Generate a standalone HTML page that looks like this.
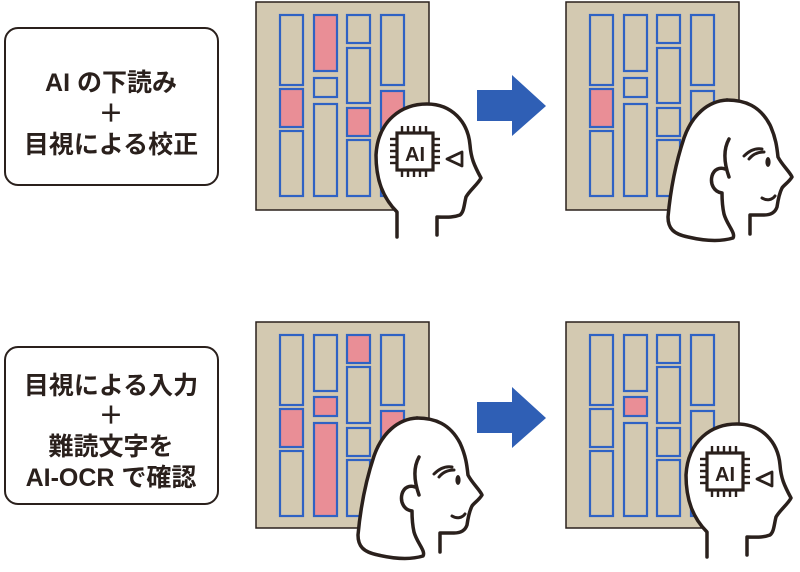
<!DOCTYPE html>
<html><head><meta charset="utf-8"><style>
html,body{margin:0;padding:0;background:#fff;}
svg{display:block}
text{font-family:"Liberation Sans","Noto Sans CJK JP",sans-serif;font-weight:bold;fill:#2a201c;}
</style></head><body>
<svg width="800" height="572" viewBox="0 0 800 572" xmlns="http://www.w3.org/2000/svg">
<defs>
<g id="chiphead">
  <path d="M397,237 L397,212 C383,198 376,180 376,155 C378,120 402,104 427,104 C452,104 468,122 470,145 C471,158 474,165 481,178 C478,184 470,190 466,197 C464,205 464,212 460,215 C452,218 445,217 437,217 L437,235" fill="#fff" stroke="#2a201c" stroke-width="3.5" stroke-linejoin="round" stroke-linecap="round"/>
  <rect x="397" y="133" width="36" height="37" fill="#fff" stroke="#2a201c" stroke-width="3.2"/>
  <g stroke="#2a201c" stroke-width="2.4">
    <line x1="402" y1="126" x2="402" y2="133"/><line x1="408" y1="126" x2="408" y2="133"/><line x1="414" y1="126" x2="414" y2="133"/><line x1="420" y1="126" x2="420" y2="133"/><line x1="426" y1="126" x2="426" y2="133"/>
    <line x1="402" y1="170" x2="402" y2="177"/><line x1="408" y1="170" x2="408" y2="177"/><line x1="414" y1="170" x2="414" y2="177"/><line x1="420" y1="170" x2="420" y2="177"/><line x1="426" y1="170" x2="426" y2="177"/>
    <line x1="390" y1="139" x2="397" y2="139"/><line x1="390" y1="145" x2="397" y2="145"/><line x1="390" y1="151" x2="397" y2="151"/><line x1="390" y1="157" x2="397" y2="157"/><line x1="390" y1="163" x2="397" y2="163"/>
    <line x1="433" y1="139" x2="440" y2="139"/><line x1="433" y1="145" x2="440" y2="145"/><line x1="433" y1="151" x2="440" y2="151"/><line x1="433" y1="157" x2="440" y2="157"/><line x1="433" y1="163" x2="440" y2="163"/>
  </g>
  <text x="415" y="161" font-size="20" text-anchor="middle">AI</text>
  <path d="M447,159 L462,152 L462,166 Z" fill="#fff" stroke="#2a201c" stroke-width="2.8" stroke-linejoin="round"/>
</g>
<g id="woman">
  <path d="M727,100 C745,100 760,106 770,125 C776,138 777,148 778,157 C782,165 790,172 792,177 C789,182 784,185 782,188 C779,194 778,200 777,207 C775,213 770,215 764,215 L750,215 L750,240 L733,240 C722,243 705,242 687,237 C672,234 668,226 668,217 C669,195 672,170 683,140 C690,118 705,101 727,100 Z" fill="#fff" stroke="none"/>
  <path d="M727,100 C708,101 692,115 684,138 C675,165 670,195 668,217 C668,228 673,234 688,237 C705,241 720,242 733,238 C736,233 727,225 724,214 C722,205 722,198 722,193 C714,192 710,184 712,176 C714,169 720,167 725,169" fill="#fff" stroke="#2a201c" stroke-width="3.5" stroke-linejoin="round" stroke-linecap="round"/>
  <path d="M727,100 C745,100 760,106 770,125 C776,138 777,148 778,157 C782,165 790,172 792,177 C789,182 784,185 782,188 C779,194 778,200 777,207 C775,213 770,215 764,215 L750,215 L750,234" fill="none" stroke="#2a201c" stroke-width="3.5" stroke-linejoin="round" stroke-linecap="round"/>
  <path d="M729,139 C724,148 723,160 729,177" fill="none" stroke="#2a201c" stroke-width="3.5" stroke-linecap="round"/>
  <path d="M744,156 C750,150 756,148 762,149 M749,159 C753,154 758,152 764,152" fill="none" stroke="#2a201c" stroke-width="3" stroke-linecap="round"/>
  <ellipse cx="768" cy="162" rx="2.6" ry="5" fill="#2a201c"/>
  <path d="M762,198 C767,201 772,200 775,196" fill="none" stroke="#2a201c" stroke-width="3" stroke-linecap="round"/>
</g>
</defs>

<rect x="5" y="28" width="213" height="157" rx="13" fill="#fff" stroke="#2a201c" stroke-width="2"/>
<text x="111" y="91" font-size="25" text-anchor="middle">AI の下読み</text>
<text x="111" y="122" font-size="25" text-anchor="middle">＋</text>
<text x="111" y="153" font-size="25" text-anchor="middle">目視による校正</text>

<rect x="5" y="347" width="213" height="157" rx="13" fill="#fff" stroke="#2a201c" stroke-width="2"/>
<text x="111" y="394" font-size="25" text-anchor="middle">目視による入力</text>
<text x="111" y="424" font-size="25" text-anchor="middle">＋</text>
<text x="111" y="455" font-size="25" text-anchor="middle">難読文字を</text>
<text x="111" y="486" font-size="25" text-anchor="middle">AI-OCR で確認</text>

<path d="M477,90 L512,90 L512,75 L546,106 L512,136 L512,121 L477,121 Z" fill="#2f5fb5"/>
<path d="M477,402 L512,402 L512,387 L546,418 L512,448 L512,433 L477,433 Z" fill="#2f5fb5"/>

<g stroke="#2f62c4" stroke-width="2.2">
<rect x="256" y="2" width="173" height="208" fill="#d3c9b1" stroke="#2a201c" stroke-width="1.5"/>
<rect x="280" y="15" width="23" height="70" fill="#d3c9b1"/>
<rect x="280" y="89" width="23" height="38" fill="#e98e96"/>
<rect x="280" y="131" width="23" height="65" fill="#d3c9b1"/>
<rect x="314" y="15" width="23" height="56" fill="#e98e96"/>
<rect x="314" y="78" width="23" height="19" fill="#d3c9b1"/>
<rect x="314" y="104" width="23" height="92" fill="#d3c9b1"/>
<rect x="347" y="15" width="23" height="28" fill="#d3c9b1"/>
<rect x="347" y="48" width="23" height="55" fill="#d3c9b1"/>
<rect x="347" y="108" width="23" height="28" fill="#e98e96"/>
<rect x="347" y="140" width="23" height="56" fill="#d3c9b1"/>
<rect x="381" y="15" width="23" height="70" fill="#d3c9b1"/>
<rect x="381" y="91" width="23" height="38" fill="#e98e96"/>
<rect x="381" y="133" width="23" height="63" fill="#d3c9b1"/>

<rect x="566" y="2" width="173" height="208" fill="#d3c9b1" stroke="#2a201c" stroke-width="1.5"/>
<rect x="590" y="15" width="23" height="70" fill="#d3c9b1"/>
<rect x="590" y="89" width="23" height="38" fill="#e98e96"/>
<rect x="590" y="131" width="23" height="65" fill="#d3c9b1"/>
<rect x="624" y="15" width="23" height="56" fill="#d3c9b1"/>
<rect x="624" y="78" width="23" height="19" fill="#d3c9b1"/>
<rect x="624" y="104" width="23" height="92" fill="#d3c9b1"/>
<rect x="657" y="15" width="23" height="28" fill="#d3c9b1"/>
<rect x="657" y="48" width="23" height="55" fill="#d3c9b1"/>
<rect x="657" y="108" width="23" height="28" fill="#d3c9b1"/>
<rect x="657" y="140" width="23" height="56" fill="#d3c9b1"/>
<rect x="691" y="15" width="23" height="70" fill="#d3c9b1"/>
<rect x="691" y="91" width="23" height="38" fill="#d3c9b1"/>
<rect x="691" y="133" width="23" height="63" fill="#d3c9b1"/>

<rect x="256" y="322" width="173" height="206" fill="#d3c9b1" stroke="#2a201c" stroke-width="1.5"/>
<rect x="280" y="335" width="23" height="70" fill="#d3c9b1"/>
<rect x="280" y="409" width="23" height="38" fill="#e98e96"/>
<rect x="280" y="451" width="23" height="65" fill="#d3c9b1"/>
<rect x="314" y="335" width="23" height="56" fill="#d3c9b1"/>
<rect x="314" y="397" width="23" height="19" fill="#e98e96"/>
<rect x="314" y="423" width="23" height="93" fill="#e98e96"/>
<rect x="347" y="335" width="23" height="28" fill="#e98e96"/>
<rect x="347" y="367" width="23" height="56" fill="#d3c9b1"/>
<rect x="347" y="428" width="23" height="28" fill="#d3c9b1"/>
<rect x="347" y="460" width="23" height="56" fill="#d3c9b1"/>
<rect x="381" y="335" width="23" height="70" fill="#d3c9b1"/>
<rect x="381" y="411" width="23" height="38" fill="#e98e96"/>
<rect x="381" y="453" width="23" height="63" fill="#d3c9b1"/>

<rect x="566" y="322" width="173" height="206" fill="#d3c9b1" stroke="#2a201c" stroke-width="1.5"/>
<rect x="590" y="335" width="23" height="70" fill="#d3c9b1"/>
<rect x="590" y="409" width="23" height="38" fill="#d3c9b1"/>
<rect x="590" y="451" width="23" height="65" fill="#d3c9b1"/>
<rect x="624" y="335" width="23" height="56" fill="#d3c9b1"/>
<rect x="624" y="397" width="23" height="19" fill="#e98e96"/>
<rect x="624" y="423" width="23" height="93" fill="#d3c9b1"/>
<rect x="657" y="335" width="23" height="28" fill="#d3c9b1"/>
<rect x="657" y="367" width="23" height="56" fill="#d3c9b1"/>
<rect x="657" y="428" width="23" height="28" fill="#d3c9b1"/>
<rect x="657" y="460" width="23" height="56" fill="#d3c9b1"/>
<rect x="691" y="335" width="23" height="70" fill="#d3c9b1"/>
<rect x="691" y="411" width="23" height="38" fill="#d3c9b1"/>
<rect x="691" y="453" width="23" height="63" fill="#d3c9b1"/>
</g>

<use href="#chiphead"/>
<use href="#chiphead" transform="translate(310,320)"/>
<use href="#woman"/>
<use href="#woman" transform="translate(-310,318)"/>
</svg>
</body></html>
